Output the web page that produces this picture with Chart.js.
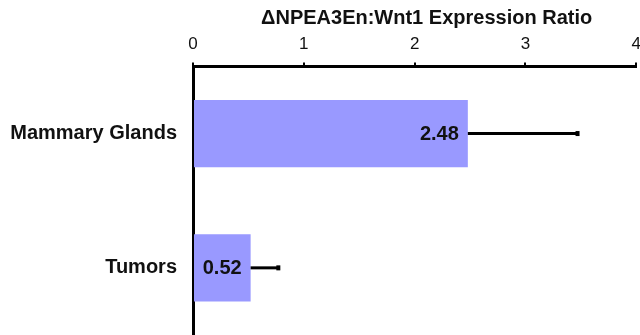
<!DOCTYPE html>
<html>
<head>
<meta charset="utf-8">
<script src="https://cdn.jsdelivr.net/npm/chart.js@4"></script>
<style>
html, body { margin: 0; padding: 0; background: #fff; overflow: hidden; }
#wrap { position: relative; width: 649px; height: 335px; }
</style>
</head>
<body>
<div id="wrap"><canvas id="chart"></canvas></div>
<script>
const categories = ['Mammary Glands', 'Tumors'];
const ratios = [2.48, 0.52];
const errors = [0.99, 0.25];
const xTicks = [0, 1, 2, 3, 4];
const chartTitle = 'ΔNPEA3En:Wnt1 Expression Ratio';

const FONT = '"Liberation Sans", Arial, Helvetica, sans-serif';

// error bar only on the positive side, small cap at the end
const errorBars = {
    id: 'errorBars',
    afterDatasetsDraw(chart) {
        const { ctx, scales: { x } } = chart;
        const meta = chart.getDatasetMeta(0);
        ctx.save();
        ctx.strokeStyle = '#000';
        ctx.fillStyle = '#000';
        ctx.lineWidth = 3;
        meta.data.forEach((bar, i) => {
            const xEnd = x.getPixelForValue(ratios[i] + errors[i]);
            ctx.beginPath();
            ctx.moveTo(bar.x, bar.y);
            ctx.lineTo(xEnd, bar.y);
            ctx.stroke();
            ctx.fillRect(xEnd - 2, bar.y - 2.5, 4, 5);
        });
        ctx.restore();
    }
};

const valueLabels = {
    id: 'valueLabels',
    afterDatasetsDraw(chart) {
        const { ctx } = chart;
        const meta = chart.getDatasetMeta(0);
        ctx.save();
        ctx.font = 'bold 20px ' + FONT;
        ctx.fillStyle = '#111';
        ctx.textAlign = 'right';
        ctx.textBaseline = 'middle';
        meta.data.forEach((bar, i) => {
            ctx.fillText(ratios[i].toFixed(2), bar.x - 9, bar.y + 1);
        });
        ctx.restore();
    }
};

const topTitle = {
    id: 'topTitle',
    afterDraw(chart) {
        const { ctx, chartArea } = chart;
        ctx.save();
        ctx.font = 'bold 20px ' + FONT;
        ctx.fillStyle = '#111';
        ctx.textAlign = 'center';
        ctx.textBaseline = 'middle';
        ctx.fillText(chartTitle, (chartArea.left + chartArea.right) / 2 + 12, 18);
        ctx.restore();
    }
};

new Chart(document.getElementById('chart'), {
    type: 'bar',
    data: {
        labels: categories,
        datasets: [{
            data: ratios,
            backgroundColor: '#9999ff',
            borderWidth: 0,
            barPercentage: 0.5,
            categoryPercentage: 1.0
        }]
    },
    options: {
        indexAxis: 'y',
        responsive: true,
        maintainAspectRatio: false,
        animation: false,
        layout: { padding: { top: 26, left: 0, right: 0, bottom: 0 } },
        plugins: { legend: { display: false }, tooltip: { enabled: false }, title: { display: false } },
        scales: {
            x: {
                position: 'top',
                min: xTicks[0],
                max: xTicks[xTicks.length - 1],
                afterBuildTicks: (scale) => { scale.ticks = xTicks.map(v => ({ value: v })); },
                ticks: { color: '#111', font: { family: FONT, size: 17 }, padding: 8 },
                grid: { display: true, drawOnChartArea: false, drawTicks: true, tickLength: 4, color: '#000', lineWidth: 2 },
                border: { display: true, color: '#000', width: 3 }
            },
            y: {
                ticks: { color: '#111', font: { family: FONT, size: 20, weight: 'bold' }, padding: 16 },
                grid: { display: false, drawTicks: false },
                border: { display: true, color: '#000', width: 3 },
                afterFit: (scale) => {
                    scale.width = 193;
                    scale.paddingTop = 0;
                    scale.paddingBottom = 0;
                }
            }
        }
    },
    plugins: [errorBars, valueLabels, topTitle]
});
</script>
</body>
</html>
